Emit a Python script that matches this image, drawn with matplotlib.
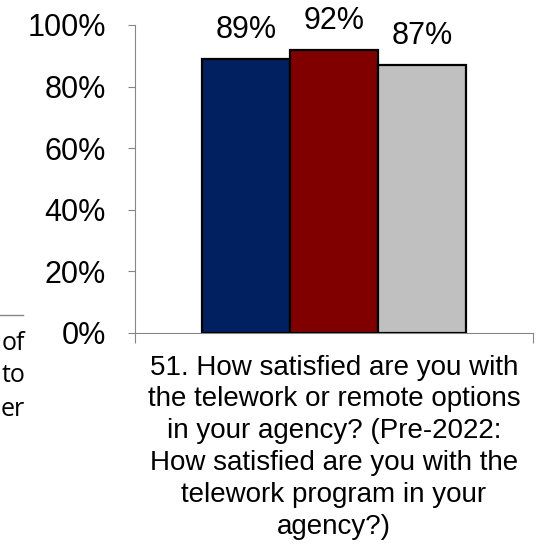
import matplotlib.pyplot as plt
from matplotlib.lines import Line2D

# Данные
series = ['2022', '2021', '2020']
values = [0.89, 0.92, 0.87]
colors = ['#002060', '#800000', '#C0C0C0']
category = ('51. How satisfied are you with\nthe telework or remote options\n'
            'in your agency? (Pre-2022:\nHow satisfied are you with the\n'
            'telework program in your\nagency?)')
yticks = [0, 0.2, 0.4, 0.6, 0.8, 1.0]
# обрезанный кусок соседнего графика слева
left_fragment = ['of', 'to', 'er']

plt.rcParams['font.family'] = ['Liberation Sans', 'DejaVu Sans']

fig = plt.figure(figsize=(5.51, 5.48), dpi=100)
W, H = 551, 548
ax = fig.add_axes([135 / W, 1 - 333 / H, 398 / W, 308 / H])

width = 0.221
offsets = [-1, 0, 1]
for i, v in enumerate(values):
    x = offsets[i] * width
    ax.bar(x, v, width=width, color=colors[i], edgecolor='black', linewidth=1.6, zorder=3)
    ax.annotate(f"{round(v * 100)}%", (x, v), xytext=(0, 10), textcoords='offset points',
                ha='center', va='bottom', fontsize=22)

ax.set_xlim(-0.5, 0.5)
ax.set_ylim(0, 1)
ax.set_yticks(yticks)
ax.set_yticklabels([f"{int(t * 100)}%" for t in yticks], fontsize=22)
ax.set_xticks([-0.5, 0.5])
ax.set_xticklabels(['', ''])
ax.tick_params(axis='y', direction='out', length=5, color='#868686', pad=16)
ax.tick_params(axis='x', direction='out', length=7, color='#868686')
for s in ['top', 'right']:
    ax.spines[s].set_visible(False)
for s in ['left', 'bottom']:
    ax.spines[s].set_color('#868686')

ax.text(0, -0.07, category, ha='center', va='top', fontsize=20, linespacing=1.29)

# фрагмент слева (кусок подписи соседнего графика)
fig.add_artist(Line2D([0, 23 / W], [1 - 315 / H, 1 - 315 / H], color='#868686', lw=1))
for j, t in enumerate(left_fragment):
    fig.text(25 / W, 1 - (343 + j * 33) / H, t, ha='right', va='center', fontsize=18,
             family=['Open Sans', 'DejaVu Sans'])

fig.savefig('out.png', dpi=100)
